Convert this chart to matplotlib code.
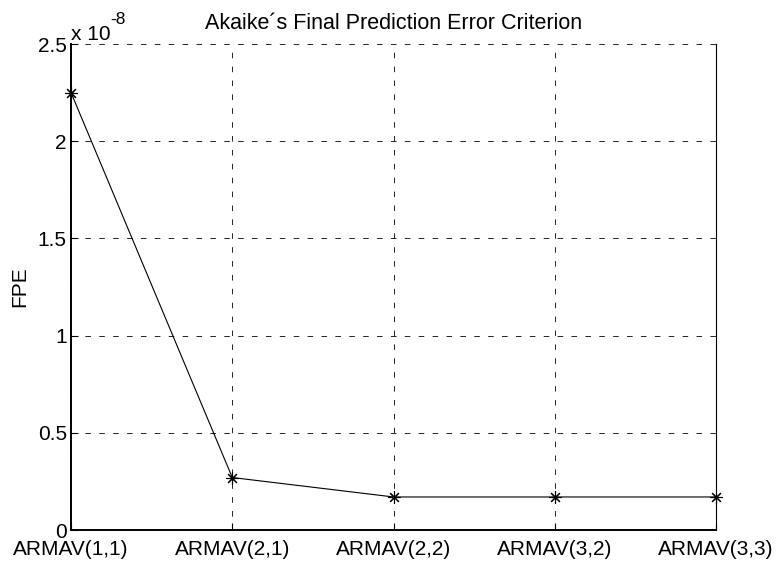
import matplotlib
matplotlib.use("Agg")
import matplotlib.pyplot as plt
from matplotlib.ticker import FuncFormatter

plt.rcParams['font.family'] = ['Liberation Sans', 'DejaVu Sans']
plt.rcParams['lines.scale_dashes'] = False

models = ['ARMAV(1,1)', 'ARMAV(2,1)', 'ARMAV(2,2)', 'ARMAV(3,2)', 'ARMAV(3,3)']
fpe = [2.25e-8, 0.27e-8, 0.17e-8, 0.17e-8, 0.17e-8]
yticks = [0, 0.5e-8, 1.0e-8, 1.5e-8, 2.0e-8, 2.5e-8]
scale = 1e-8

fig = plt.figure(figsize=(7.77, 5.62), dpi=100)
ax = fig.add_axes([0.0914, 0.0569, 0.8301, 0.8648])

x = list(range(len(models)))
ax.plot(x, fpe, '-', color='black', linewidth=0.8, clip_on=False,
        marker=(8, 2, 0), markersize=9, markeredgewidth=0.8, zorder=3)

ax.set_xlim(0, len(models) - 1)
ax.set_ylim(0, 2.5e-8)
ax.set_xticks(x)
ax.set_xticklabels(models)
ax.set_yticks(yticks)
ax.yaxis.set_major_formatter(FuncFormatter(lambda v, p: '%g' % (v / scale)))

ax.grid(True, color='black', linestyle=(0, (4, 6)), linewidth=0.6)
ax.tick_params(direction='in', length=5, width=0.8, labelsize=15,
               top=False, right=False)
ax.tick_params(axis='x', pad=7)
ax.tick_params(axis='y', pad=3)
for side in ['left', 'bottom']:
    ax.spines[side].set_linewidth(1.4)
ax.spines['right'].set_linewidth(0.8)
ax.spines['top'].set_visible(False)

ax.set_ylabel('FPE', fontsize=15, labelpad=6)
ax.set_title('Akaike\u00b4s Final Prediction Error Criterion', fontsize=15.5, pad=11)

# exponent label above the y axis
fig.text(71 / 777, 1 - 40 / 562, 'x 10', fontsize=15, ha='left', va='baseline')
fig.text(110 / 777, 1 - 24 / 562, '-8', fontsize=12.5, ha='left', va='baseline')

fig.savefig('out.png', dpi=100)
